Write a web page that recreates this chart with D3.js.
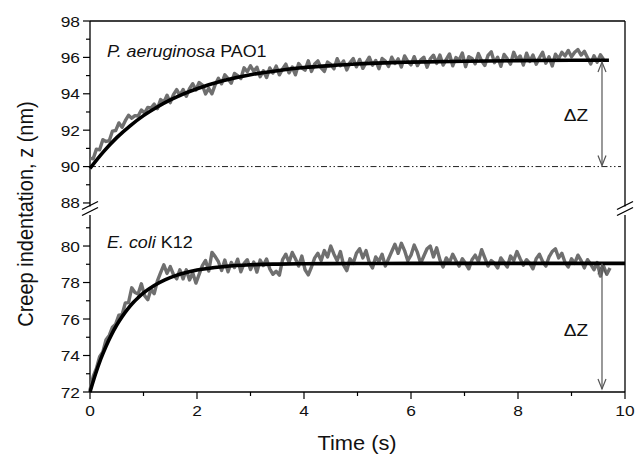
<!DOCTYPE html>
<html>
<head>
<meta charset="utf-8">
<script src="https://cdn.jsdelivr.net/npm/d3@7"></script>
<style>
	body { margin: 0; background: #fff; }
	svg { display: block; }
	text { font-family: "Liberation Sans", Arial, sans-serif; fill: #111; }
</style>
</head>
<body>
<svg id="chart" width="636" height="456"></svg>
<script>
// sampled creep traces (one value every 0.06 s)
const sampleStep = 0.06;

const pao1Values = [
	90.45, 90.43, 90.96, 90.92, 91.48, 91.38, 91.42, 91.95, 91.98, 92.40, 92.16, 92.52, 92.82, 92.66, 92.80, 92.78, 93.11, 92.94, 93.25, 93.22, 93.43,
	93.18, 93.68, 93.53, 93.92, 93.51, 93.95, 94.23, 93.91, 94.23, 93.86, 94.28, 94.55, 94.21, 94.62, 94.48,
	93.99, 94.30, 94.00, 94.50,
	94.85, 94.55, 95.04, 94.83, 94.58, 95.12, 95.00, 94.84,
	95.43, 95.21, 95.54, 95.23, 95.46,
	94.94, 95.26, 94.89, 95.42, 95.14, 95.52, 95.04, 95.36,
	95.63, 95.15, 95.47, 95.04, 95.66, 95.43, 95.30, 95.81, 95.23, 95.64,
	95.81, 95.42, 95.23, 95.74, 95.61, 95.37, 95.93, 95.54, 95.80, 95.31,
	95.72, 95.93, 95.48, 95.89, 95.40, 95.71, 96.01, 95.57, 95.83, 95.38,
	95.94, 95.80, 95.50, 96.01, 95.66, 95.92, 95.47, 96.08, 95.78, 95.59,
	96.04, 95.55, 95.85, 96.01, 95.46, 95.92, 96.12, 95.67,
	96.13, 95.58, 95.89, 96.19, 95.54, 95.99, 95.84, 96.24, 95.49, 96.04, 95.94, 95.65,
	96.21, 95.81, 95.56, 96.11, 96.31, 95.71, 96.01, 95.51, 96.16, 95.92,
	95.63, 96.28, 95.88, 96.08, 95.58, 96.23, 95.78, 96.13, 95.63, 95.98, 96.28, 95.68, 96.03, 95.53, 96.18, 95.93,
	96.28, 96.08, 96.38, 96.03, 96.28, 96.43, 96.13, 96.33, 95.98,
	95.64, 96.09, 95.74, 96.14, 95.89
];

const ecoliValues = [
	72.10, 72.85, 73.29, 73.94, 74.20, 74.86, 75.10, 75.55, 75.72,
	76.21, 76.23, 76.88, 76.90, 77.71, 77.45, 77.37, 77.93,
	77.28, 77.06, 77.63, 77.39, 78.09,
	78.54, 78.97, 78.50, 78.87, 78.44,
	78.20, 78.70, 78.20, 78.70, 78.14, 78.53, 77.97, 78.45,
	78.93, 79.21, 78.63, 79.65, 79.42, 79.14, 78.66, 79.23,
	78.59, 79.10, 78.82, 79.28, 78.59, 79.05, 79.25, 78.71, 79.12, 78.57, 79.23, 78.93, 79.29,
	78.75, 78.45, 78.62, 78.40, 79.25, 79.55, 79.10, 79.65, 79.30, 78.90,
	79.45, 78.70, 78.42, 78.85, 79.35, 79.60, 79.20, 79.75, 79.40, 80.00,
	79.55, 79.20, 79.70, 78.95, 78.65, 79.30, 79.05, 79.60, 79.85, 79.35,
	79.75, 79.10, 78.80, 79.40, 79.15, 79.55, 78.90, 79.30, 79.70, 80.10,
	79.60, 80.15, 79.75, 79.20, 79.50, 80.05, 79.65, 79.05, 79.45, 79.85,
	80.00, 79.40, 79.90, 79.25, 78.85, 79.35, 79.10, 79.55, 79.20, 78.90,
	79.30, 79.05, 78.75, 79.25, 79.50, 79.15, 79.80, 79.35, 78.90, 79.20,
	79.05, 78.80, 79.35, 79.10, 78.85, 79.45, 79.20, 79.70, 79.30, 78.95,
	79.25, 79.05, 78.75, 79.30, 79.55, 79.15, 78.90, 79.40, 79.70, 79.85,
	79.35, 79.60, 79.10, 78.85, 79.30, 79.05, 79.50, 79.20, 78.80, 79.25,
	79.00, 78.70, 79.10, 78.35, 78.90, 78.45, 78.80
];

// fitted curves
const pao1FitTime = [0, 0.25, 0.5, 0.75, 1, 1.25, 1.5, 1.75, 2, 2.5, 3, 3.5, 4, 4.5, 5, 5.5, 6, 7, 8, 9, 9.7];
const pao1FitValues = [89.90, 90.81, 91.59, 92.24, 92.80, 93.26, 93.66, 94.00, 94.28, 94.73, 95.05, 95.27, 95.44, 95.55, 95.64, 95.70, 95.74, 95.79, 95.82, 95.84, 95.84];

const ecoliFitTime = [0, 0.1, 0.2, 0.3, 0.4, 0.5, 0.6, 0.7, 0.8, 0.9, 1, 1.2, 1.4, 1.6, 1.8, 2, 2.5, 3, 3.5, 4, 5, 6, 8, 10];
const ecoliFitValues = [72.00, 72.96, 73.80, 74.51, 75.13, 75.67, 76.13, 76.53, 76.88, 77.17, 77.43, 77.84, 78.15, 78.38, 78.55, 78.68, 78.87, 78.97, 79.01, 79.03, 79.04, 79.05, 79.05, 79.05];

// axis ticks
const xMajor = [0, 2, 4, 6, 8, 10];
const xMinor = [1, 3, 5, 7, 9];
const topMajor = [88, 90, 92, 94, 96, 98];
const topMinor = [89, 91, 93, 95, 97];
const botMajor = [72, 74, 76, 78, 80];
const botMinor = [73, 75, 77, 79, 81];

// delta z markers
const arrowTime = 9.57;
const baseline = 90;
const deltaTop = [95.8, 90];
const deltaBot = [79.05, 72];

const SX = 1.12; // text in the original is a bit wide

let svg = d3.select("#chart");

let x = d3.scaleLinear().domain([0, 10]).range([90, 625]);
let yTop = d3.scaleLinear().domain([87.8, 98]).range([206.6, 21]);
let yBot = d3.scaleLinear().domain([72, 81.7]).range([392, 215]);

function addText(g, str, px, py, anchor, size) {
	return g.append("text")
		.attr("transform", `translate(${px},${py}) scale(${SX},1)`)
		.attr("text-anchor", anchor)
		.style("font-size", size + "px")
		.text(str);
}

// axes frame
let frame = svg.append("g").attr("stroke", "#000").attr("stroke-width", 1.3);
frame.append("line").attr("x1", x(0)).attr("x2", x(10)).attr("y1", yTop(98)).attr("y2", yTop(98));
frame.append("line").attr("x1", x(0)).attr("x2", x(10)).attr("y1", yBot(72)).attr("y2", yBot(72));
[x(0), x(10)].forEach((px) => {
	frame.append("line").attr("x1", px).attr("x2", px).attr("y1", yTop(98)).attr("y2", yTop.range()[0]);
	frame.append("line").attr("x1", px).attr("x2", px).attr("y1", yBot.range()[1]).attr("y2", yBot(72));
	// break marks
	[205.5, 211.5].forEach((by) => {
		frame.append("line")
			.attr("x1", px - 8).attr("y1", by + 4)
			.attr("x2", px + 8).attr("y2", by - 4);
	});
});

// ticks
function ticks(values, len, pos, horizontal) {
	let g = svg.append("g").attr("stroke", "#000").attr("stroke-width", 1.2);
	g.selectAll("line")
		.data(values)
		.join("line")
		.attr("x1", (d) => (horizontal ? x(d) : x(0)))
		.attr("x2", (d) => (horizontal ? x(d) : x(0) - len))
		.attr("y1", (d) => (horizontal ? yBot(72) : pos(d)))
		.attr("y2", (d) => (horizontal ? yBot(72) + len : pos(d)));
}
ticks(xMajor, 7, null, true);
ticks(xMinor, 4, null, true);
ticks(topMajor, 7, yTop, false);
ticks(topMinor, 4, yTop, false);
ticks(botMajor, 7, yBot, false);
ticks(botMinor, 4, yBot, false);

let labels = svg.append("g");
xMajor.forEach((d) => addText(labels, d, x(d), 416, "middle", 15.5));
topMajor.forEach((d) => addText(labels, d, 80, yTop(d) + 5.5, "end", 15.5));
botMajor.forEach((d) => addText(labels, d, 80, yBot(d) + 5.5, "end", 15.5));

addText(labels, "Time (s)", 357, 450, "middle", 19.5);
labels.append("text")
	.attr("transform", `translate(33,214) rotate(-90) scale(1,${SX})`)
	.attr("text-anchor", "middle")
	.style("font-size", "20px")
	.text("Creep indentation, z (nm)");

// reference line at z = 90
svg.append("line")
	.attr("x1", x(0)).attr("x2", x(10) - 4)
	.attr("y1", yTop(baseline)).attr("y2", yTop(baseline))
	.attr("stroke", "#222")
	.attr("stroke-width", 1)
	.attr("stroke-dasharray", "6,2.5,1.5,2.5,1.5,2.5");

// data traces
let rawLine = (yScale) => d3.line()
	.x((d, i) => x(i * sampleStep))
	.y((d) => yScale(d));
let fitLine = (yScale) => d3.line()
	.x((d) => x(d[0]))
	.y((d) => yScale(d[1]))
	.curve(d3.curveMonotoneX);

[[pao1Values, yTop], [ecoliValues, yBot]].forEach(([vals, yScale]) => {
	svg.append("path")
		.datum(vals)
		.attr("d", rawLine(yScale))
		.attr("fill", "none")
		.attr("stroke", "#6f6f6f")
		.attr("stroke-width", 3.4)
		.attr("stroke-linejoin", "round");
});

svg.append("path")
	.datum(d3.zip(pao1FitTime, pao1FitValues))
	.attr("d", fitLine(yTop))
	.attr("fill", "none")
	.attr("stroke", "#000")
	.attr("stroke-width", 3.6);
svg.append("path")
	.datum(d3.zip(ecoliFitTime, ecoliFitValues))
	.attr("d", fitLine(yBot))
	.attr("fill", "none")
	.attr("stroke", "#000")
	.attr("stroke-width", 3.6);

// delta z arrows
function arrow(y1, y2) {
	let ax = x(arrowTime);
	let g = svg.append("g")
		.attr("stroke", "#555")
		.attr("stroke-width", 1.2)
		.attr("fill", "none");
	g.append("line").attr("x1", ax).attr("x2", ax).attr("y1", y1).attr("y2", y2);
	g.append("path").attr("d", `M${ax - 4},${y1 + 10}L${ax},${y1}L${ax + 4},${y1 + 10}`);
	g.append("path").attr("d", `M${ax - 4},${y2 - 10}L${ax},${y2}L${ax + 4},${y2 - 10}`);
}
arrow(yTop(deltaTop[0]) + 1, yTop(deltaTop[1]) - 1);
arrow(yBot(deltaBot[0]) + 1, yBot(deltaBot[1]) - 3);

addText(labels, "\u0394Z", 576, 121, "middle", 17);
addText(labels, "\u0394Z", 576, 336, "middle", 17);

// strain names
let t1 = labels.append("text")
	.attr("transform", `translate(107,57) scale(${SX},1)`)
	.style("font-size", "16px");
t1.append("tspan").style("font-style", "italic").text("P. aeruginosa");
t1.append("tspan").text(" PAO1");

let t2 = labels.append("text")
	.attr("transform", `translate(107,248) scale(${SX},1)`)
	.style("font-size", "16px");
t2.append("tspan").style("font-style", "italic").text("E. coli");
t2.append("tspan").text(" K12");
</script>
</body>
</html>
